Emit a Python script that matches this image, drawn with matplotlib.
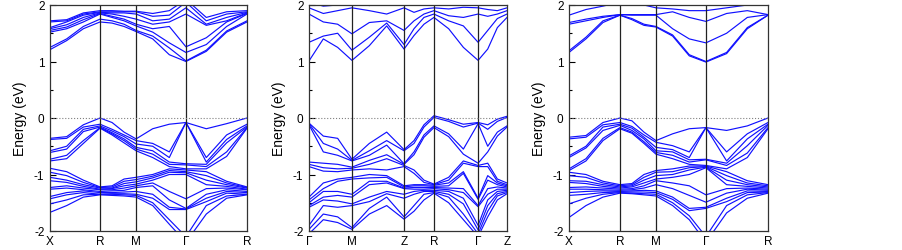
import matplotlib.pyplot as plt
import numpy as np
from matplotlib.ticker import MultipleLocator

# high-symmetry points (relative k-path length) and their labels
labels1 = ["X", "R", "M", "Γ", "R"]
nodes1 = [0.0, 0.254, 0.437, 0.690, 1.0]
labels2 = ["Γ", "M", "Z", "R", "Γ", "Z"]
nodes2 = [0.0, 0.217, 0.480, 0.631, 0.854, 1.0]
labels3 = ["X", "R", "M", "Γ", "R"]
nodes3 = [0.0, 0.256, 0.437, 0.688, 1.0]

# energies (eV) read at every node and at 1/3, 2/3 of each segment;
# one row per k-point, one column per band
cond1 = [
    [1.21, 1.25, 1.52, 1.55, 1.58, 1.60, 1.70, 1.72],
    [1.37, 1.40, 1.58, 1.61, 1.65, 1.70, 1.72, 1.74],
    [1.58, 1.62, 1.70, 1.74, 1.78, 1.82, 1.84, 1.86],
    [1.70, 1.75, 1.84, 1.85, 1.86, 1.87, 1.88, 1.90],
    [1.68, 1.72, 1.78, 1.80, 1.84, 1.86, 1.88, 1.90],
    [1.62, 1.66, 1.72, 1.75, 1.80, 1.86, 1.88, 1.89],
    [1.53, 1.55, 1.63, 1.66, 1.75, 1.84, 1.88, 1.89],
    [1.40, 1.45, 1.52, 1.58, 1.66, 1.72, 1.80, 1.85],
    [1.12, 1.24, 1.33, 1.62, 1.70, 1.75, 1.82, 1.90],
    [1.00, 1.01, 1.16, 1.26, 1.84, 1.95, 2.05, 2.10],
    [1.18, 1.20, 1.30, 1.42, 1.64, 1.66, 1.72, 1.78],
    [1.52, 1.54, 1.62, 1.70, 1.72, 1.78, 1.84, 1.88],
    [1.70, 1.72, 1.84, 1.85, 1.86, 1.87, 1.88, 1.90],
]
val1 = [
    [-0.36, -0.38, -0.58, -0.61, -0.73, -0.76, -0.89, -0.96, -1.05, -1.11, -1.23, -1.26, -1.39, -1.43, -1.52, -1.67],
    [-0.33, -0.36, -0.50, -0.55, -0.66, -0.72, -0.95, -1.02, -1.10, -1.14, -1.20, -1.24, -1.32, -1.36, -1.45, -1.55],
    [-0.12, -0.16, -0.20, -0.24, -0.40, -0.45, -1.10, -1.14, -1.18, -1.21, -1.24, -1.27, -1.29, -1.32, -1.36, -1.40],
    [0.00, -0.11, -0.14, -0.16, -0.17, -0.18, -1.22, -1.23, -1.24, -1.26, -1.27, -1.30, -1.32, -1.35, -1.35, -1.36],
    [-0.08, -0.20, -0.23, -0.26, -0.28, -0.30, -1.20, -1.22, -1.24, -1.25, -1.27, -1.29, -1.32, -1.34, -1.35, -1.37],
    [-0.25, -0.30, -0.33, -0.37, -0.40, -0.44, -1.08, -1.12, -1.16, -1.20, -1.24, -1.28, -1.31, -1.34, -1.36, -1.38],
    [-0.37, -0.40, -0.46, -0.52, -0.55, -0.58, -1.05, -1.09, -1.13, -1.17, -1.20, -1.23, -1.30, -1.35, -1.37, -1.40],
    [-0.19, -0.45, -0.50, -0.58, -0.64, -0.70, -1.00, -1.03, -1.06, -1.10, -1.15, -1.20, -1.35, -1.42, -1.50, -1.55],
    [-0.11, -0.60, -0.70, -0.78, -0.82, -0.86, -0.90, -0.93, -0.96, -1.00, -1.30, -1.45, -1.58, -1.62, -1.80, -1.88],
    [-0.08, -0.08, -0.08, -0.81, -0.83, -0.90, -0.92, -0.95, -0.97, -1.00, -1.43, -1.60, -1.61, -1.62, -2.10, -2.20],
    [-0.19, -0.70, -0.78, -0.82, -0.86, -0.90, -0.95, -1.02, -1.10, -1.18, -1.25, -1.35, -1.42, -1.48, -1.55, -1.70],
    [-0.10, -0.30, -0.38, -0.44, -0.60, -0.68, -1.12, -1.15, -1.18, -1.21, -1.24, -1.27, -1.30, -1.33, -1.38, -1.42],
    [0.00, -0.11, -0.14, -0.16, -0.17, -0.18, -1.22, -1.23, -1.24, -1.26, -1.27, -1.30, -1.32, -1.35, -1.35, -1.36],
]

cond2 = [
    [1.01, 1.34, 1.84, 1.95, 2.05],
    [1.40, 1.45, 1.70, 1.85, 1.98],
    [1.25, 1.50, 1.66, 1.90, 2.00],
    [1.02, 1.20, 1.49, 1.95, 2.05],
    [1.28, 1.43, 1.69, 1.90, 1.99],
    [1.63, 1.68, 1.72, 1.84, 2.05],
    [1.22, 1.30, 1.55, 1.95, 2.05],
    [1.46, 1.58, 1.72, 1.87, 2.00],
    [1.66, 1.78, 1.84, 1.93, 2.05],
    [1.78, 1.84, 1.90, 1.95, 2.05],
    [1.58, 1.72, 1.81, 1.93, 2.05],
    [1.25, 1.63, 1.78, 1.96, 2.05],
    [1.02, 1.34, 1.84, 1.95, 2.05],
    [1.22, 1.55, 1.80, 1.92, 2.02],
    [1.60, 1.76, 1.84, 1.90, 2.00],
    [1.78, 1.84, 1.90, 1.95, 2.05],
]
val2 = [
    [-0.09, -0.10, -0.12, -0.78, -0.82, -0.86, -1.40, -1.45, -1.50, -1.55, -1.58, -1.90, -1.97, -2.05],
    [-0.32, -0.45, -0.60, -0.80, -0.88, -0.94, -1.15, -1.25, -1.30, -1.40, -1.45, -1.55, -1.70, -1.80],
    [-0.36, -0.55, -0.66, -0.82, -0.90, -0.95, -1.08, -1.12, -1.30, -1.37, -1.47, -1.58, -1.75, -1.85],
    [-0.73, -0.75, -0.76, -0.87, -0.89, -0.92, -1.05, -1.08, -1.35, -1.40, -1.52, -1.55, -1.94, -1.97],
    [-0.45, -0.58, -0.66, -0.75, -0.82, -0.90, -1.00, -1.06, -1.12, -1.18, -1.40, -1.48, -1.60, -1.70],
    [-0.25, -0.40, -0.48, -0.65, -0.72, -0.92, -1.02, -1.05, -1.12, -1.15, -1.30, -1.34, -1.40, -1.55],
    [-0.56, -0.58, -0.81, -0.82, -0.84, -0.86, -1.20, -1.22, -1.24, -1.25, -1.35, -1.42, -1.75, -1.79],
    [-0.40, -0.45, -0.60, -0.65, -0.92, -0.98, -1.18, -1.20, -1.23, -1.26, -1.30, -1.35, -1.55, -1.65],
    [-0.12, -0.16, -0.30, -0.34, -1.10, -1.14, -1.18, -1.20, -1.23, -1.26, -1.28, -1.30, -1.35, -1.45],
    [0.04, 0.01, -0.14, -0.17, -1.17, -1.18, -1.19, -1.21, -1.23, -1.25, -1.28, -1.30, -1.32, -1.33],
    [-0.03, -0.06, -0.28, -0.33, -1.05, -1.10, -1.15, -1.20, -1.24, -1.27, -1.30, -1.35, -1.40, -1.50],
    [-0.11, -0.16, -0.55, -0.64, -0.76, -0.80, -0.95, -0.98, -1.25, -1.32, -1.42, -1.52, -1.70, -1.80],
    [-0.08, -0.09, -0.10, -0.80, -0.84, -0.86, -1.42, -1.44, -1.55, -1.57, -1.90, -1.98, -2.05, -2.10],
    [-0.12, -0.20, -0.50, -0.60, -0.80, -0.86, -1.02, -1.10, -1.25, -1.35, -1.45, -1.55, -1.65, -1.75],
    [-0.02, -0.06, -0.25, -0.32, -1.08, -1.12, -1.15, -1.18, -1.22, -1.26, -1.30, -1.34, -1.38, -1.45],
    [0.03, 0.01, -0.14, -0.16, -1.15, -1.18, -1.20, -1.22, -1.24, -1.26, -1.28, -1.30, -1.32, -1.34],
]

cond3 = [
    [1.16, 1.19, 1.66, 1.69, 1.82],
    [1.40, 1.43, 1.72, 1.75, 1.92],
    [1.69, 1.72, 1.78, 1.80, 1.98],
    [1.82, 1.82, 1.83, 1.83, 2.05],
    [1.74, 1.76, 1.82, 1.83, 2.05],
    [1.64, 1.66, 1.82, 1.83, 2.00],
    [1.61, 1.62, 1.82, 1.83, 1.95],
    [1.45, 1.47, 1.58, 1.88, 1.93],
    [1.10, 1.12, 1.40, 1.78, 1.90],
    [0.99, 1.00, 1.33, 1.71, 1.90],
    [1.14, 1.16, 1.50, 1.85, 1.95],
    [1.58, 1.60, 1.78, 1.90, 2.00],
    [1.82, 1.82, 1.83, 1.83, 2.05],
]
val3 = [
    [-0.34, -0.37, -0.67, -0.70, -0.90, -0.93, -0.96, -1.02, -1.11, -1.14, -1.23, -1.26, -1.32, -1.37, -1.52, -1.76],
    [-0.31, -0.34, -0.50, -0.53, -0.72, -0.76, -1.00, -1.05, -1.12, -1.16, -1.22, -1.26, -1.30, -1.35, -1.42, -1.55],
    [-0.08, -0.12, -0.16, -0.22, -0.36, -0.40, -1.12, -1.15, -1.18, -1.21, -1.24, -1.27, -1.29, -1.32, -1.35, -1.40],
    [0.00, -0.08, -0.11, -0.13, -0.17, -0.19, -1.18, -1.20, -1.22, -1.24, -1.26, -1.28, -1.30, -1.31, -1.32, -1.33],
    [-0.05, -0.15, -0.18, -0.22, -0.25, -0.27, -1.16, -1.18, -1.20, -1.22, -1.25, -1.27, -1.29, -1.31, -1.33, -1.34],
    [-0.25, -0.30, -0.34, -0.37, -0.42, -0.45, -1.00, -1.05, -1.10, -1.15, -1.20, -1.24, -1.28, -1.31, -1.34, -1.36],
    [-0.40, -0.43, -0.52, -0.58, -0.61, -0.64, -0.93, -0.96, -1.02, -1.08, -1.11, -1.18, -1.29, -1.32, -1.35, -1.38],
    [-0.28, -0.49, -0.56, -0.60, -0.66, -0.72, -0.90, -0.95, -1.00, -1.05, -1.15, -1.25, -1.40, -1.44, -1.50, -1.55],
    [-0.19, -0.60, -0.70, -0.74, -0.78, -0.82, -0.85, -0.88, -0.92, -1.00, -1.20, -1.37, -1.60, -1.64, -1.73, -1.80],
    [-0.17, -0.17, -0.17, -0.73, -0.74, -0.84, -0.85, -0.86, -0.87, -0.88, -1.36, -1.49, -1.58, -1.60, -2.10, -2.20],
    [-0.22, -0.60, -0.76, -0.80, -0.84, -0.90, -0.95, -1.02, -1.10, -1.18, -1.25, -1.33, -1.42, -1.48, -1.55, -1.68],
    [-0.14, -0.28, -0.37, -0.49, -0.62, -0.70, -1.11, -1.15, -1.18, -1.21, -1.24, -1.26, -1.29, -1.32, -1.36, -1.42],
    [0.00, -0.08, -0.11, -0.13, -0.17, -0.19, -1.18, -1.20, -1.22, -1.24, -1.26, -1.28, -1.30, -1.31, -1.32, -1.33],
]

plt.rcParams.update(
    {
        "font.family": ["Liberation Sans", "DejaVu Sans"],
        "font.size": 8.5,
        "axes.unicode_minus": False,
        "axes.linewidth": 0.9,
        "axes.edgecolor": "#333333",
    }
)


def kgrid(nodes):
    # nodes plus the 1/3 and 2/3 points of every segment
    k = []
    for a, b in zip(nodes[:-1], nodes[1:]):
        k.extend(np.linspace(a, b, 4)[:-1])
    k.append(nodes[-1])
    return np.array(k)


fig = plt.figure(figsize=(9.03, 2.51), dpi=100)
lefts = [50 / 903, 309 / 903, 569 / 903]
widths = [197 / 903, 198 / 903, 199 / 903]

panels = [
    (nodes1, labels1, cond1, val1),
    (nodes2, labels2, cond2, val2),
    (nodes3, labels3, cond3, val3),
]

for (nodes, labels, cond, val), x0, w in zip(panels, lefts, widths):
    ax = fig.add_axes([x0, 19 / 251, w, 226 / 251])
    k = kgrid(nodes)
    for band in np.array(cond).T:
        ax.plot(k, band, color="#1010ff", linewidth=0.85)
    for band in np.array(val).T:
        ax.plot(k, band, color="#1010ff", linewidth=0.85)
    for xn in nodes[1:-1]:
        ax.axvline(xn, color="#222222", linewidth=0.9)
    ax.axhline(0, color="gray", linestyle=":", linewidth=0.8)

    ax.set_xlim(nodes[0], nodes[-1])
    ax.set_ylim(-2, 2)
    ax.set_xticks(nodes)
    ax.set_xticklabels(labels)
    ax.tick_params(axis="x", length=0, pad=3, labelsize=8.5)
    ax.yaxis.set_major_locator(MultipleLocator(1))
    ax.yaxis.set_minor_locator(MultipleLocator(0.5))
    ax.tick_params(axis="y", which="major", direction="in", length=4, width=0.8, pad=4,
                   labelsize=8.5)
    ax.tick_params(axis="y", which="minor", direction="in", length=2.5, width=0.8)
    ax.set_ylabel("Energy (eV)", fontsize=10, labelpad=5)

plt.savefig("out.png", dpi=100)
